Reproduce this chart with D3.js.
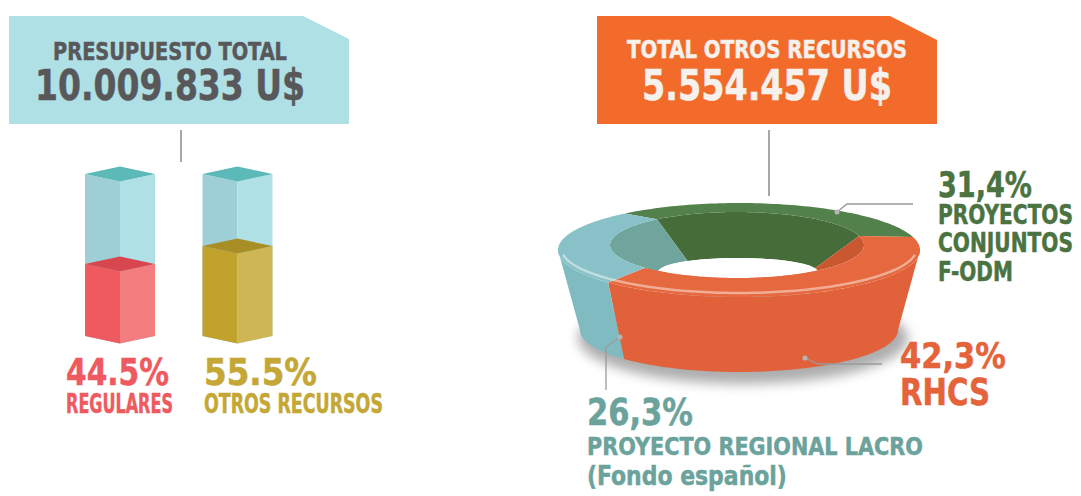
<!DOCTYPE html>
<html>
<head>
<meta charset="utf-8">
<script src="https://d3js.org/d3.v7.min.js"></script>
<style>
  body { margin: 0; background: #fff; }
  svg { display: block; }
</style>
</head>
<body>
<script>
// ---- data ----
var totalTitles = ["PRESUPUESTO TOTAL", "TOTAL OTROS RECURSOS"];
var totalValues = ["10.009.833 U$", "5.554.457 U$"];

var budgetCats = ["REGULARES", "OTROS RECURSOS"];
var budgetPct = [44.5, 55.5];

var otherCats = [["PROYECTOS", "CONJUNTOS", "F-ODM"], ["RHCS"], ["PROYECTO REGIONAL LACRO", "(Fondo español)"]];
var otherPct = [31.4, 42.3, 26.3];

// ---- setup ----
var width = 1081, height = 496;
var FONT = "'DejaVu Sans Condensed', 'DejaVu Sans', sans-serif";

var svg = d3.select("body").append("svg")
    .attr("width", width)
    .attr("height", height);

var defs = svg.append("defs");
defs.append("filter").attr("id", "blur")
    .attr("x", "-20%").attr("y", "-50%").attr("width", "140%").attr("height", "200%")
    .append("feGaussianBlur").attr("stdDeviation", 6);

// text squeezed horizontally to a given width (condensed look)
function txt(x, y, s, size, color, len, anchor) {
    var t = svg.append("text")
        .attr("font-family", FONT)
        .attr("font-weight", "bold")
        .attr("font-size", size)
        .attr("fill", color)
        .attr("stroke", color)
        .attr("stroke-width", 0.5)
        .attr("text-anchor", anchor || "start")
        .text(s);
    var w = t.node().getComputedTextLength();
    var sx = len ? len / w : 1;
    t.attr("transform", "translate(" + x + "," + y + ") scale(" + sx + ",1)");
    return t;
}

var line = d3.line();

// ---- banners ----
svg.append("path")
    .attr("d", line([[9, 16], [303, 16], [349, 39], [349, 124], [9, 124]]) + "Z")
    .attr("fill", "#aee0e6");
svg.append("path")
    .attr("d", line([[597, 16], [890, 16], [937, 40], [937, 124], [597, 124]]) + "Z")
    .attr("fill", "#f26b2b");

txt(170, 60, totalTitles[0], 25, "#58585b", 234, "middle");
txt(170, 100, totalValues[0], 42, "#58585b", 270, "middle");
txt(767, 58, totalTitles[1], 25, "#f6f1ec", 280, "middle");
txt(767, 100, totalValues[1], 42, "#f6f1ec", 250, "middle");

// connector lines
svg.append("line").attr("x1", 181).attr("x2", 181).attr("y1", 130).attr("y2", 162)
    .attr("stroke", "#8a8a8a").attr("stroke-width", 1.5);
svg.append("line").attr("x1", 769).attr("x2", 769).attr("y1", 130).attr("y2", 196)
    .attr("stroke", "#8a8a8a").attr("stroke-width", 1.5);

// ---- 3D glass bars ----
var x = d3.scalePoint().domain(budgetCats).range([120, 237.5]);
var y = d3.scaleLinear().domain([0, 100]).range([336, 174]);
var hw = 35, dh = 7.5;

var barColors = [
    { left: "#ef5a5f", right: "#f47e7f", top: "#d8474f", label: "#ee5a60" },
    { left: "#c1a22c", right: "#cfb655", top: "#a88e24", label: "#c4a734" }
];
var glass = { left: "#9ecfd7", right: "#afe0e6", top: "#5bb9b7" };

function prism(g, cx, y0, y1, c) {
    g.append("path").attr("fill", c.left)
        .attr("d", line([[cx - hw, y1], [cx, y1 + dh], [cx, y0 + dh], [cx - hw, y0]]) + "Z");
    g.append("path").attr("fill", c.right)
        .attr("d", line([[cx, y1 + dh], [cx + hw, y1], [cx + hw, y0], [cx, y0 + dh]]) + "Z");
    g.append("path").attr("fill", c.top)
        .attr("d", line([[cx - hw, y1], [cx, y1 - dh], [cx + hw, y1], [cx, y1 + dh]]) + "Z");
}

var bars = svg.append("g");
budgetCats.forEach(function (c, i) {
    var cx = x(c);
    prism(bars, cx, y(0), y(100), glass);
    prism(bars, cx, y(0), y(budgetPct[i]), barColors[i]);
});

var pctX = [117.5, 204], catX = [119.5, 204];
var labelAnchor = ["middle", "start"];
var pctLen = [103, 113];
var catLen = [107, 179];
budgetCats.forEach(function (c, i) {
    txt(pctX[i], 385, d3.format(".1f")(budgetPct[i]) + "%", 37, barColors[i].label, pctLen[i], labelAnchor[i]);
    txt(catX[i], 413, c, 27, barColors[i].label, catLen[i], labelAnchor[i]);
});

// ---- 3D ring ----
var E1 = { cx: 739, cy: 250, rx: 181, ry: 47 };   // outer top rim
var E0 = { cx: 739, cy: 330, rx: 159, ry: 42 };   // outer bottom
var I1 = { cx: 737, cy: 245, rx: 127, ry: 33 };   // inner top rim
var I0 = { cx: 738, cy: 272, rx: 80, ry: 14 };    // inner bottom (hole)

function ept(e, a) { return [e.cx + e.rx * Math.sin(a), e.cy - e.ry * Math.cos(a)]; }
function arcPts(e, a1, a2) {
    var n = Math.max(2, Math.ceil(Math.abs(a2 - a1) * 40));
    return d3.range(n + 1).map(function (k) { return ept(e, a1 + (a2 - a1) * k / n); });
}

var ringColors = [
    { top: "#53814b", side: "#4c7a44", inner: "#466c39", label: "#4a7341" },
    { top: "#e6683f", side: "#e1623a", inner: "#c9572f", label: "#e4633b" },
    { top: "#88c2c8", side: "#80bbc2", inner: "#6fa59d", label: "#6ba39c" }
];

var start = -39 * Math.PI / 180;
var pie = d3.pie().sort(null).startAngle(start).endAngle(start + 2 * Math.PI);
var arcs = pie(otherPct);

var ring = svg.append("g");

// shadow
ring.append("ellipse")
    .attr("cx", E0.cx + 4).attr("cy", E0.cy + 8).attr("rx", E0.rx + 6).attr("ry", E0.ry + 4)
    .attr("fill", "#6a6a6a").attr("opacity", 0.55).attr("filter", "url(#blur)");

// inner wall
arcs.forEach(function (d, i) {
    var pts = arcPts(I1, d.startAngle, d.endAngle).concat(arcPts(I0, d.endAngle, d.startAngle));
    ring.append("path").attr("d", line(pts) + "Z").attr("fill", ringColors[i].inner);
});

// hole
defs.append("clipPath").attr("id", "innerClip")
    .append("ellipse").attr("cx", I1.cx).attr("cy", I1.cy).attr("rx", I1.rx).attr("ry", I1.ry);
ring.append("ellipse")
    .attr("cx", I0.cx).attr("cy", I0.cy).attr("rx", I0.rx).attr("ry", I0.ry)
    .attr("fill", "#ffffff").attr("clip-path", "url(#innerClip)");

// outer side (front half only)
var front = [Math.PI / 2, 3 * Math.PI / 2];
arcs.forEach(function (d, i) {
    var b1 = Math.max(d.startAngle, front[0]), b2 = Math.min(d.endAngle, front[1]);
    if (b2 <= b1) return;
    var pts = arcPts(E1, b1, b2).concat(arcPts(E0, b2, b1));
    ring.append("path").attr("d", line(pts) + "Z").attr("fill", ringColors[i].side);
});

// top face
arcs.forEach(function (d, i) {
    var pts = arcPts(E1, d.startAngle, d.endAngle).concat(arcPts(I1, d.endAngle, d.startAngle));
    ring.append("path").attr("d", line(pts) + "Z").attr("fill", ringColors[i].top);
});

// rim highlight
ring.append("path")
    .attr("d", line(arcPts({ cx: E1.cx, cy: E1.cy - 2, rx: E1.rx - 3, ry: E1.ry - 2 }, Math.PI / 2 + 0.15, 3 * Math.PI / 2 - 0.15)))
    .attr("fill", "none").attr("stroke", "#ffffff").attr("stroke-opacity", 0.45).attr("stroke-width", 2.5);

// ---- leaders ----
var leaders = [
    [[837, 212], [847, 204], [913, 204]],
    [[805, 358], [818, 364], [882, 364]],
    [[620, 337], [606, 347], [606, 390]]
];
leaders.forEach(function (p) {
    svg.append("path").attr("d", line(p)).attr("fill", "none")
        .attr("stroke", "#9a9a9a").attr("stroke-width", 1.3);
    svg.append("circle").attr("cx", p[0][0]).attr("cy", p[0][1]).attr("r", 2.5)
        .attr("fill", "#b5b5b5");
});

// ---- ring labels ----
function pctComma(v) { return d3.format(".1f")(v).replace(".", ",") + "%"; }

txt(938, 197, pctComma(otherPct[0]), 35, ringColors[0].label, 94);
txt(938, 224, otherCats[0][0], 26, ringColors[0].label, 135);
txt(938, 252, otherCats[0][1], 26, ringColors[0].label, 135);
txt(938, 281, otherCats[0][2], 26, ringColors[0].label, 75);

txt(900, 368, pctComma(otherPct[1]), 36, ringColors[1].label, 106);
txt(900, 405, otherCats[1][0], 37, ringColors[1].label, 90);

txt(587, 425, pctComma(otherPct[2]), 37, ringColors[2].label, 106);
txt(587, 455, otherCats[2][0], 25, ringColors[2].label, 336);
txt(587, 485, otherCats[2][1], 26, ringColors[2].label, 200);
</script>
</body>
</html>
